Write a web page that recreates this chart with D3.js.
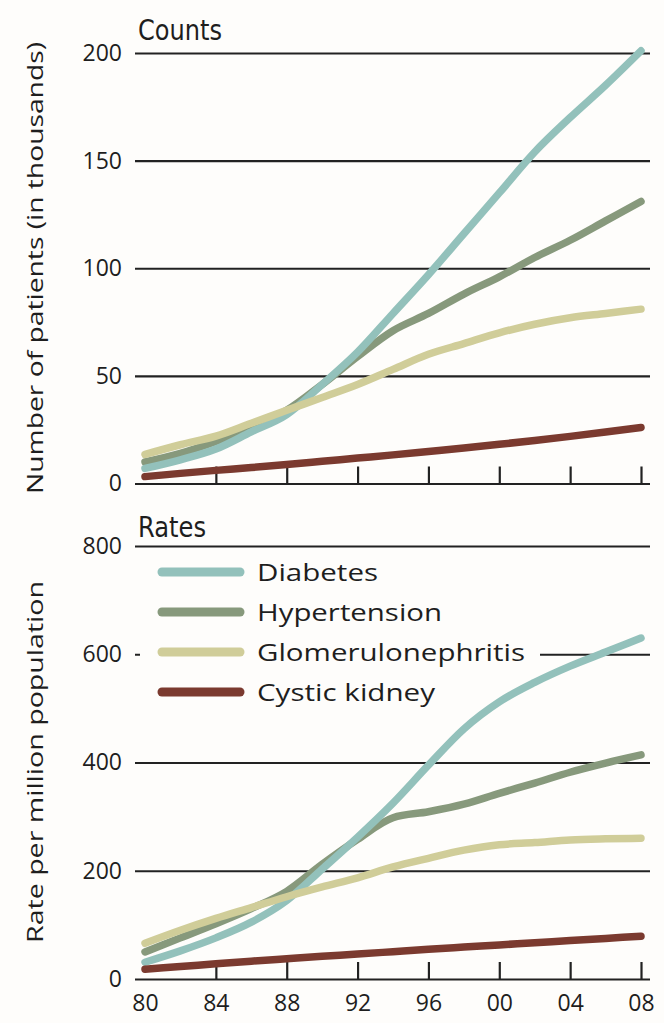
<!DOCTYPE html>
<html><head><meta charset="utf-8">
<script src="https://cdn.jsdelivr.net/npm/d3@7"></script>
<style>body{margin:0;background:#fff}svg{display:block}</style>
</head><body><svg id="c" width="664" height="1023"></svg>
<script>
// ---- data ----
const years = [1980,1982,1984,1986,1988,1990,1992,1994,1996,1998,2000,2002,2004,2006,2008];
const seriesNames = ["Diabetes","Hypertension","Glomerulonephritis","Cystic kidney"];
// Counts, thousands of patients
const countsDiabetes     = [7, 11, 16, 24, 32, 46, 61, 79, 97, 116, 135, 154, 170, 185, 201];
const countsHypertension = [10, 14, 19.5, 26, 34, 46, 59, 71, 79, 88, 96, 105, 113, 122, 131];
const countsGlomerulo    = [13.5, 18, 22, 28, 34, 40, 46, 53, 60, 65, 70, 74, 77, 79, 81];
const countsCystic       = [3.2, 4.7, 6.1, 7.4, 8.8, 10.3, 11.8, 13.3, 14.9, 16.5, 18.2, 20, 21.9, 23.9, 26];
// Rates per million population
const ratesDiabetes     = [31, 52, 76, 105, 145, 203, 262, 325, 395, 462, 512, 548, 578, 604, 630];
const ratesHypertension = [50, 76, 102, 130, 162, 212, 258, 298, 309, 323, 343, 362, 382, 399, 414];
const ratesGlomerulo    = [66, 90, 112, 132, 152, 170, 187, 207, 223, 238, 248, 252, 257, 259, 260];
const ratesCystic       = [18, 23, 28, 33, 37.5, 42, 46, 50.5, 55, 59, 63, 67, 71, 75, 79];
// ticks
const xTickYears  = [1980,1984,1988,1992,1996,2000,2004,2008];
const xTickLabels = ["80","84","88","92","96","00","04","08"];
const countTicks  = [0,50,100,150,200];
const rateTicks   = [0,200,400,600,800];

// ---- style ----
const colors = ["#93c1bb","#87997c","#d0cd99","#7b3a2f"];
const drawOrder = [1,0,2,3];
const svg = d3.select("#c");
svg.append("rect").attr("width",664).attr("height",1023).attr("fill","#fefdfb");

const X0 = 135, X1 = 650;
const x = d3.scaleLinear().domain([1980,2008]).range([145,641]);
const tickFont = "'Open Sans','Noto Sans',sans-serif";

function panel(opts){
  const y = d3.scaleLinear().domain(opts.domain).range([opts.bottom, opts.top]);
  const g = svg.append("g");
  g.append("g").attr("transform",`translate(${X0},0)`)
    .call(d3.axisRight(y).tickValues(opts.ticks).tickSize(X1-X0).tickFormat(""))
    .call(s=>{s.select(".domain").remove(); s.selectAll("line").attr("stroke","#222").attr("stroke-width",2.2);});
  g.append("g").attr("transform",`translate(${X0},0)`)
    .call(d3.axisLeft(y).tickValues(opts.ticks).tickSize(0).tickPadding(13).tickFormat(d3.format("d")))
    .call(s=>{s.select(".domain").remove(); s.selectAll("text").attr("font-family",tickFont).attr("font-size",23).attr("fill","#1e1e1e");});
  g.append("g").attr("transform",`translate(0,${opts.bottom})`)
    .call(d3.axisTop(x).tickValues(xTickYears.slice(1)).tickSize(17).tickFormat(""))
    .call(s=>{s.select(".domain").remove(); s.selectAll("line").attr("stroke","#222").attr("stroke-width",2.2);});
  svg.append("text").attr("x",138).attr("y",opts.titleY).text(opts.title)
    .attr("font-family","'DejaVu Sans Condensed','Liberation Sans Narrow',sans-serif")
    .attr("font-size",29).attr("fill","#1e1e1e").attr("textLength",opts.titleLen).attr("lengthAdjust","spacingAndGlyphs");
  svg.append("text").attr("transform",`translate(43,${opts.titleMid}) rotate(-90)`)
    .attr("text-anchor","middle").text(opts.ylabel)
    .attr("font-family",tickFont).attr("font-size",22).attr("fill","#1e1e1e")
    .attr("textLength",opts.ylabelLen).attr("lengthAdjust","spacingAndGlyphs");
  if (opts.legend) opts.legend(g);
  const line = d3.line().x((d,i)=>x(years[i])).y(d=>y(d)).curve(d3.curveMonotoneX);
  const lg = svg.append("g");
  drawOrder.forEach(k=>{
    lg.append("path").attr("d",line(opts.series[k])).attr("fill","none")
      .attr("stroke",colors[k]).attr("stroke-width",7.5).attr("stroke-linecap","round").attr("stroke-linejoin","round");
  });
  return y;
}

panel({domain:[0,200], top:53, bottom:483.5, ticks:countTicks, title:"Counts", titleLen:84, titleY:40,
  ylabel:"Number of patients (in thousands)", titleMid:268, ylabelLen:452,
  series:[countsDiabetes,countsHypertension,countsGlomerulo,countsCystic]});

panel({domain:[0,800], top:546, bottom:979, ticks:rateTicks, title:"Rates", titleLen:68, titleY:537,
  ylabel:"Rate per million population", titleMid:762, ylabelLen:362,
  series:[ratesDiabetes,ratesHypertension,ratesGlomerulo,ratesCystic],
  legend:(g)=>{
    g.append("rect").attr("x",140).attr("y",556).attr("width",400).attr("height",150).attr("fill","#fefdfb");
    const ly = [572,612,652,692];
    const tl = [121,185,268,178];
    seriesNames.forEach((n,i)=>{
      g.append("line").attr("x1",162).attr("x2",240).attr("y1",ly[i]).attr("y2",ly[i])
        .attr("stroke",colors[i]).attr("stroke-width",9).attr("stroke-linecap","round");
      g.append("text").attr("x",257).attr("y",ly[i]+9).text(n)
        .attr("font-family",tickFont).attr("font-size",24).attr("fill","#1e1e1e")
        .attr("textLength",tl[i]).attr("lengthAdjust","spacingAndGlyphs");
    });
  }});

svg.append("g").attr("transform","translate(0,979)")
  .call(d3.axisBottom(x).tickValues(xTickYears).tickSize(0).tickPadding(16).tickFormat((d,i)=>xTickLabels[i]))
  .call(s=>{s.select(".domain").remove(); s.selectAll("text").attr("font-family",tickFont).attr("font-size",23).attr("fill","#1e1e1e");});
</script></body></html>
